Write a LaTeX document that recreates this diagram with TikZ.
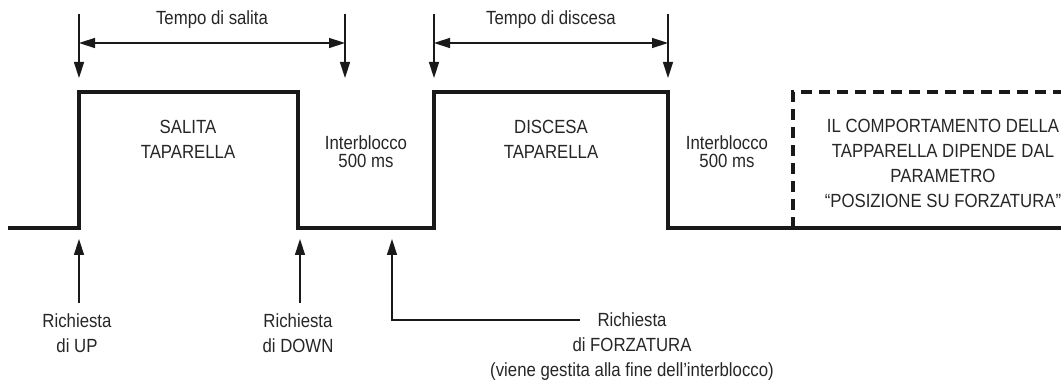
\documentclass[tikz,border=0pt]{standalone}
\usepackage{fontspec}
\setmainfont{Liberation Sans}[FakeStretch=0.88]
\usetikzlibrary{arrows.meta}

\begin{document}
\begin{tikzpicture}[x=0.75pt, y=-0.75pt,
          wave/.style={line width=3pt, black!90, line join=miter},
          dashwave/.style={wave, dash pattern=on 8pt off 5.5pt},
          arr/.style={-{Triangle[length=12pt, width=7.5pt]}, line width=1.1pt, black!90},
          darr/.style={{Triangle[length=12pt, width=7.5pt]}-{Triangle[length=12pt, width=7.5pt]},
                       line width=1.1pt, black!90},
          lbl/.style={font=\fontsize{14.3}{18.75}\selectfont, text=black!85,
                      align=center, inner sep=0pt},
          lock/.style={lbl, font=\fontsize{14.3}{13.5}\selectfont}
        ]
        \useasboundingbox (0,0) rectangle (1061,381);

        % edges of the output signal
        \coordinate (w0)  at (8,228);
        \coordinate (upl) at (79,228);   \coordinate (uph) at (79,92);
        \coordinate (dnh) at (298,92);   \coordinate (dnl) at (298,228);
        \coordinate (fol) at (434,228);  \coordinate (foh) at (434,92);
        \coordinate (enh) at (668,92);   \coordinate (enl) at (668,228);
        \coordinate (w1)  at (1061,228);
        \coordinate (pl)  at (793,228);  \coordinate (ph) at (793,92);
        \coordinate (pr)  at (1061,92);
        \draw[wave] (w0)--(upl)--(uph)--(dnh)--(dnl)--(fol)--(foh)--(enh)--(enl)--(w1);
        \draw[dashwave] (pl)--(ph)--(pr);

        % timing marks on top
        \foreach \x/\n in {79/a, 345/b, 434/c, 668/d} {
          \coordinate (top\n) at (\x,14);
          \coordinate (tip\n) at (\x,78);
          \coordinate (mid\n) at (\x,43);
          \draw[arr] (top\n)--(tip\n);
        }
        \draw[darr] (mida)--(midb);
        \draw[darr] (midc)--(midd);
        \node[lbl, anchor=base] (tsal) at (212,25) {Tempo di salita};
        \node[lbl, anchor=base] (tdis) at (551,25) {Tempo di discesa};

        % texts in the signal
        \node[lbl]  (sal)  at (188,139) {SALITA\\TAPARELLA};
        \node[lbl]  (dis)  at (551,139) {DISCESA\\TAPARELLA};
        \node[lock] (int1) at (366,152) {Interblocco\\500 ms};
        \node[lock] (int2) at (727,152) {Interblocco\\500 ms};
        \node[lbl]  (par)  at (943,163) {IL COMPORTAMENTO DELLA\\TAPPARELLA DIPENDE DAL\\PARAMETRO\\“POSIZIONE SU FORZATURA”};

        % requests from below
        \node[lbl] (rup)   at (77,333.5)  {Richiesta\\di UP};
        \node[lbl] (rdown) at (298,333.5) {Richiesta\\di DOWN};
        \node[lbl] (rforz) at (632,347) {Richiesta\\di FORZATURA\\(viene gestita alla fine dell’interblocco)};
        \coordinate (upfoot) at (79,303);  \coordinate (uptip) at (79,239);
        \coordinate (dnfoot) at (300,303); \coordinate (dntip) at (300,239);
        \coordinate (fzfoot) at (580,320); \coordinate (fztip) at (392,239);
        \draw[arr] (upfoot)--(uptip);
        \draw[arr] (dnfoot)--(dntip);
        \draw[arr] (fzfoot)-|(fztip);
      \end{tikzpicture}
\end{document}
